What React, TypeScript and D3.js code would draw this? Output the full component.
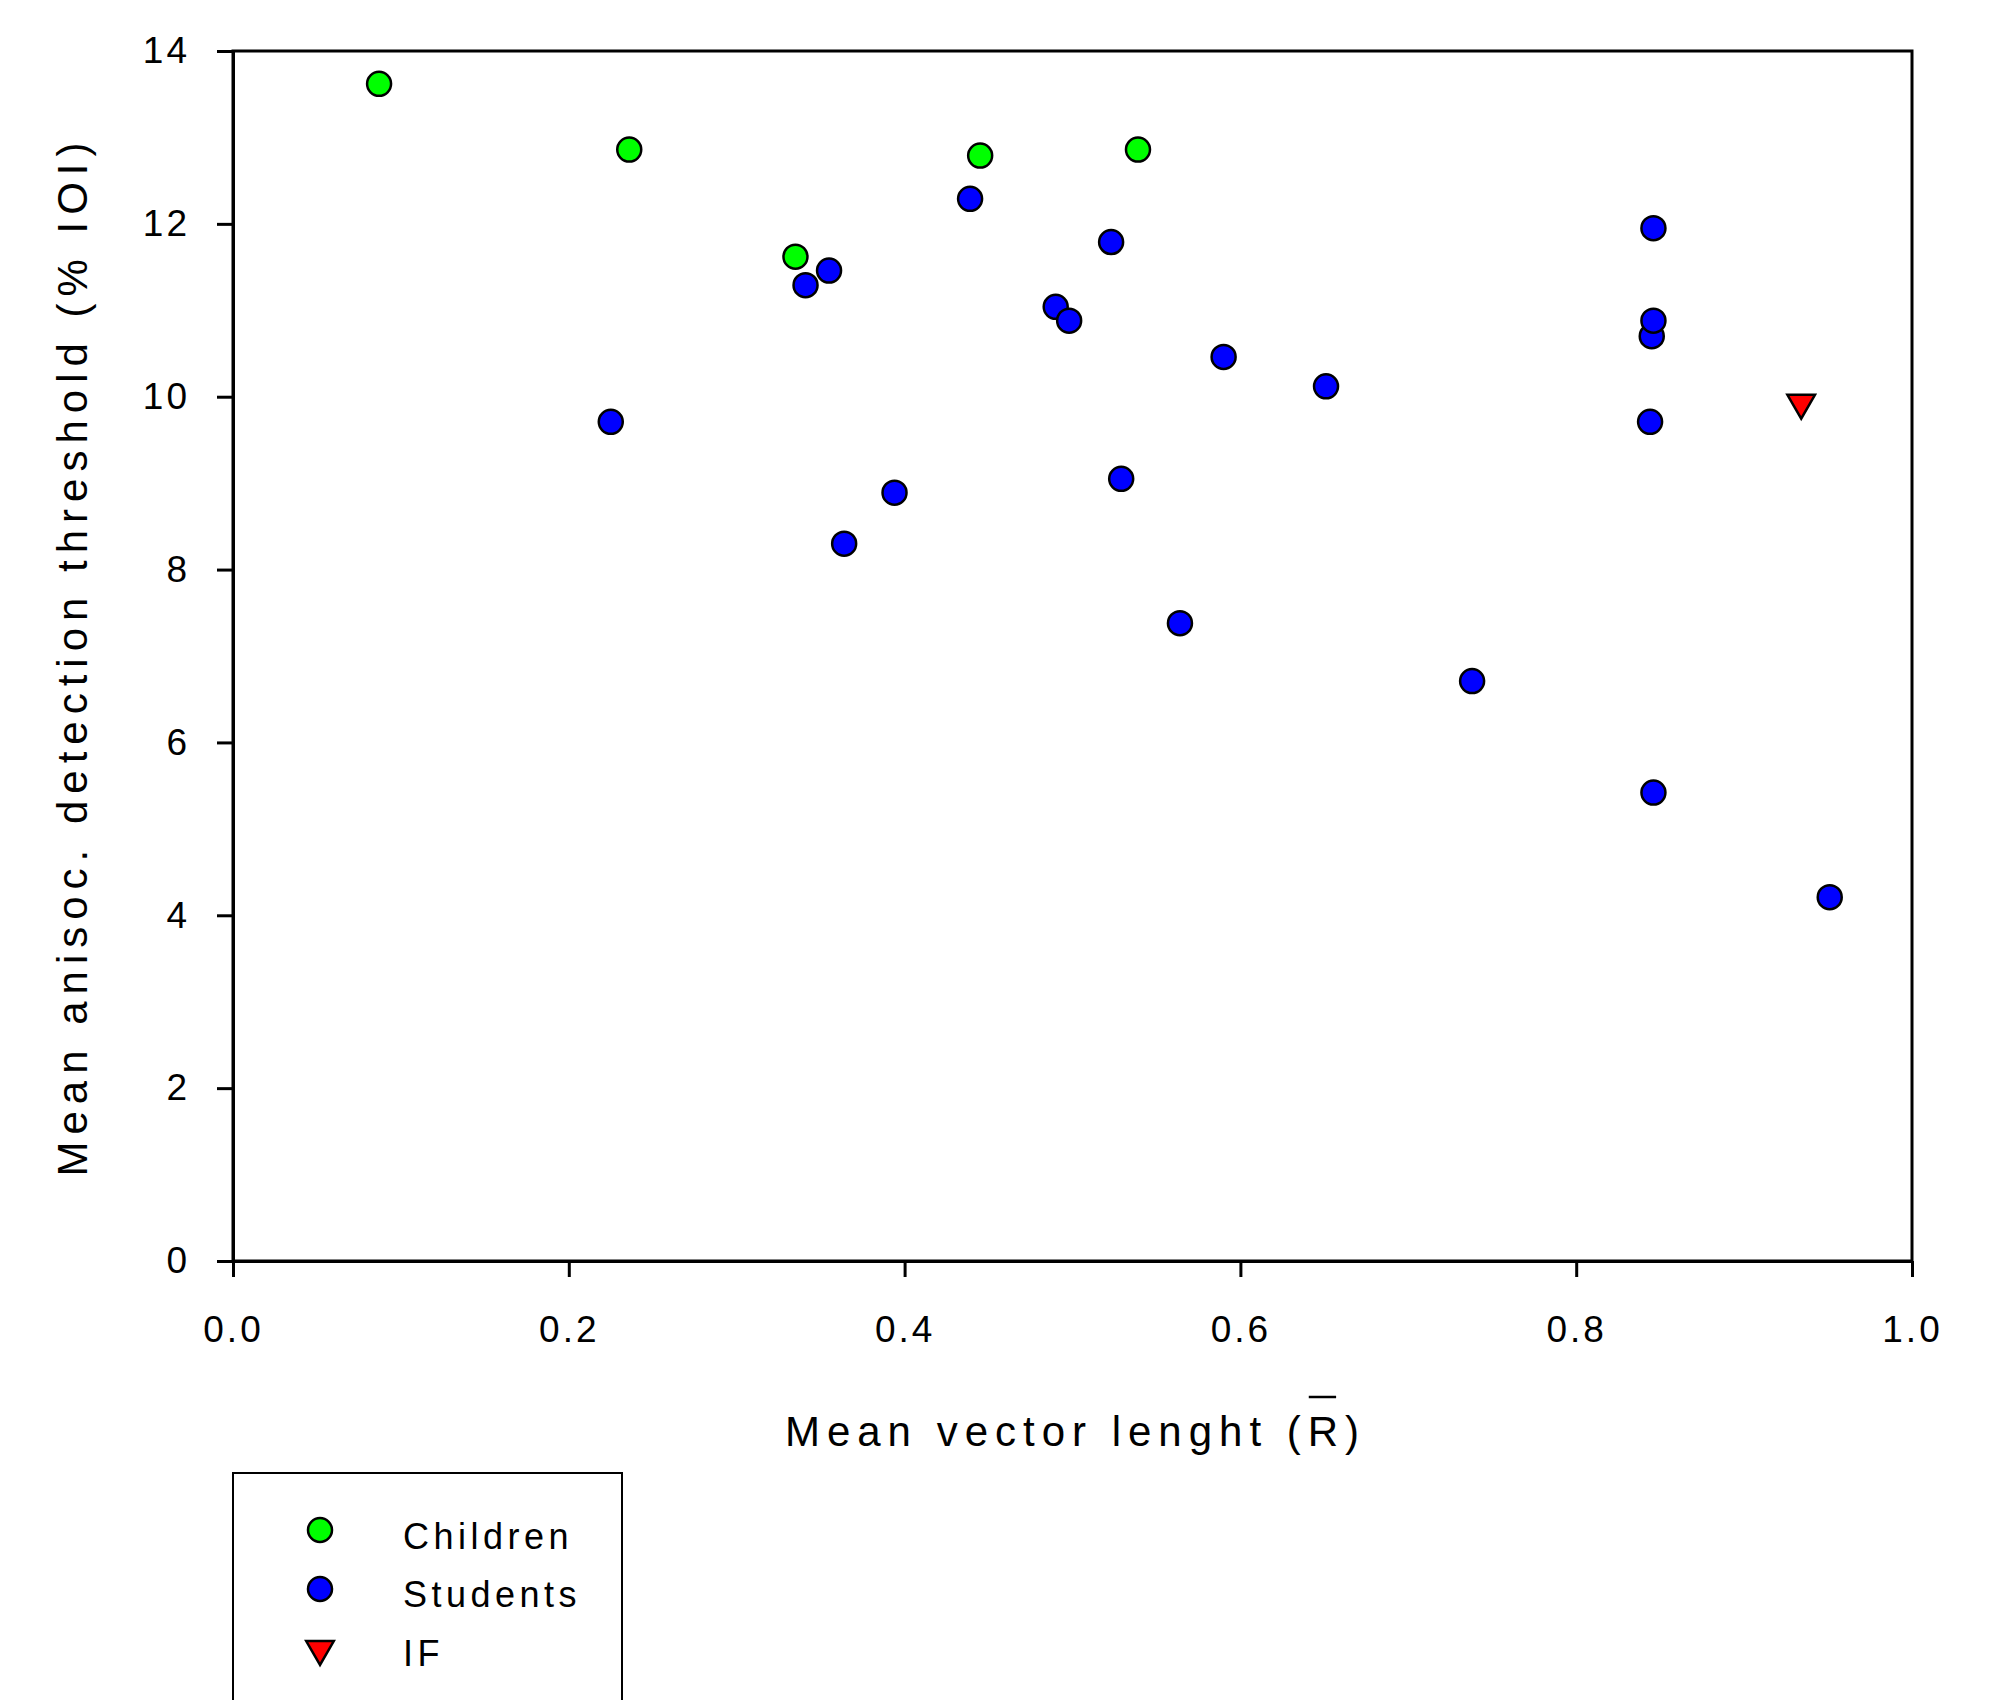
import React, { useEffect, useRef } from 'react';
import * as d3 from 'd3';

// mean vector length (x) and mean anisochrony detection threshold (y)
const childrenR = [0.087, 0.236, 0.335, 0.445, 0.539];
const childrenThr = [13.62, 12.86, 11.62, 12.79, 12.86];

const studentsR = [0.225, 0.341, 0.355, 0.364, 0.394, 0.439, 0.490, 0.498, 0.523, 0.529,
	0.564, 0.590, 0.651, 0.738, 0.846, 0.845, 0.846, 0.844, 0.846, 0.951];
const studentsThr = [9.71, 11.29, 11.46, 8.30, 8.89, 12.29, 11.04, 10.88, 11.79, 9.05,
	7.38, 10.46, 10.12, 6.71, 11.95, 10.70, 10.88, 9.71, 5.42, 4.21];

const ifR = [0.934];
const ifThr = [9.93];

const xTicks = [0, 0.2, 0.4, 0.6, 0.8, 1.0];
const yTicks = [0, 2, 4, 6, 8, 10, 12, 14];

const legendLabels = ['Children', 'Students', 'IF'];

const W = 1997;
const H = 1700;
const font = '"Liberation Sans", Arial, sans-serif';

const drawChart = (node: SVGSVGElement) => {
	const svg = d3.select(node);
	svg.selectAll('*').remove();

	const x = d3.scaleLinear().domain([0, 1]).range([233, 1912]);
	const y = d3.scaleLinear().domain([0, 14]).range([1261, 51]);

	svg.append('rect').attr('width', W).attr('height', H).attr('fill', '#fff');

	// frame (top + right)
	svg.append('rect')
		.attr('x', x(0)).attr('y', y(14))
		.attr('width', x(1) - x(0)).attr('height', y(0) - y(14))
		.attr('fill', 'none').attr('stroke', '#000').attr('stroke-width', 3);

	const styleAxis = (g) => {
		g.select('.domain').attr('stroke-width', 3);
		g.selectAll('.tick line').attr('stroke-width', 3);
		g.selectAll('.tick text')
			.attr('font-family', font)
			.attr('font-size', 37)
			.attr('letter-spacing', 3)
			.attr('fill', '#000');
	};

	svg.append('g')
		.attr('transform', `translate(0,${ y(0) })`)
		.call(d3.axisBottom(x).tickValues(xTicks).tickFormat(d3.format('.1f'))
			.tickSize(16).tickSizeOuter(0).tickPadding(39))
		.call(styleAxis)
		.call((g) => g.selectAll('.tick text').attr('dx', 0));

	svg.append('g')
		.attr('transform', `translate(${ x(0) },0)`)
		.call(d3.axisLeft(y).tickValues(yTicks).tickFormat(d3.format('d'))
			.tickSize(16).tickSizeOuter(0).tickPadding(27))
		.call(styleAxis);

	// axis titles
	const xTitle = svg.append('text')
		.attr('x', (x(0) + x(1)) / 2 + 3)
		.attr('y', 1446)
		.attr('text-anchor', 'middle')
		.attr('font-family', font)
		.attr('font-size', 42)
		.attr('letter-spacing', 7)
		.text('Mean vector lenght (R)');

	const xt = xTitle.node() as SVGTextElement;
	const idx = xt.textContent.indexOf('R)');
	const box = xt.getExtentOfChar(idx);
	svg.append('line')
		.attr('x1', box.x + 1).attr('x2', box.x + box.width - 9)
		.attr('y1', 1397).attr('y2', 1397)
		.attr('stroke', '#000').attr('stroke-width', 2.5);

	svg.append('text')
		.attr('transform', `translate(87,${ (y(0) + y(14)) / 2 }) rotate(-90)`)
		.attr('text-anchor', 'middle')
		.attr('font-family', font)
		.attr('font-size', 42)
		.attr('letter-spacing', 7)
		.text('Mean anisoc. detection threshold (% IOI)');

	const circle = d3.symbol(d3.symbolCircle, Math.PI * 12 * 12);
	const tri = d3.symbol(d3.symbolTriangle, 330);

	const plotCircles = (xs: number[], ys: number[], fill: string) => {
		svg.append('g')
			.selectAll('path')
			.data(xs.map((v, i) => [v, ys[i]]))
			.join('path')
			.attr('d', circle)
			.attr('transform', (d) => `translate(${ x(d[0]) },${ y(d[1]) })`)
			.attr('fill', fill)
			.attr('stroke', '#000')
			.attr('stroke-width', 2.5);
	};

	plotCircles(childrenR, childrenThr, '#00ff00');
	plotCircles(studentsR, studentsThr, '#0000ff');

	svg.append('g')
		.selectAll('path')
		.data(ifR.map((v, i) => [v, ifThr[i]]))
		.join('path')
		.attr('d', tri)
		.attr('transform', (d) => `translate(${ x(d[0]) },${ y(d[1]) }) rotate(180)`)
		.attr('fill', '#ff0000')
		.attr('stroke', '#000')
		.attr('stroke-width', 2.5);

	// legend
	const legend = svg.append('g');
	legend.append('rect')
		.attr('x', 233).attr('y', 1473)
		.attr('width', 389).attr('height', 300)
		.attr('fill', 'none').attr('stroke', '#000').attr('stroke-width', 2);

	const legendFill = ['#00ff00', '#0000ff', '#ff0000'];
	const legendY = [1530, 1589, 1649];

	legend.selectAll('path')
		.data(legendLabels)
		.join('path')
		.attr('d', (d, i) => (i === 2 ? tri() : circle()))
		.attr('transform', (d, i) => `translate(320,${ legendY[i] })${ i === 2 ? ' rotate(180)' : '' }`)
		.attr('fill', (d, i) => legendFill[i])
		.attr('stroke', '#000')
		.attr('stroke-width', 2.5);

	legend.selectAll('text')
		.data(legendLabels)
		.join('text')
		.attr('x', 403)
		.attr('y', (d, i) => [1549, 1607, 1666][i])
		.attr('font-family', font)
		.attr('font-size', 36)
		.attr('letter-spacing', 4.5)
		.text((d) => d);
};

const App = () => {
	const ref = useRef<SVGSVGElement>(null);

	useEffect(() => {
		if (ref.current) drawChart(ref.current);
	}, []);

	return (
		<svg ref={ ref } width={ W } height={ H }
			style={ { position: 'absolute', left: 0, top: 0, display: 'block' } }/>
	);
};

export default App;
